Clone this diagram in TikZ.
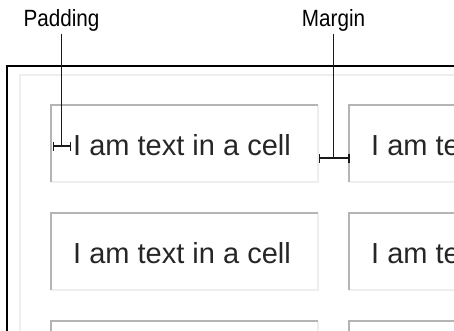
\documentclass[tikz,border=0pt]{standalone}
\usepackage{fontspec}
\setmainfont{Liberation Sans}
\newfontfamily\labelfont[FakeStretch=0.88]{Liberation Sans}
\usetikzlibrary{arrows.meta}
\definecolor{darkedge}{HTML}{B4B4B4}
\definecolor{lightedge}{HTML}{EEEEEE}
\definecolor{inkline}{HTML}{1A1A1A}
\tikzset{
  x=1pt, y=1pt,
  cellbox/.style={minimum width=267pt, minimum height=77pt, inner sep=0pt, outer sep=0pt},
  celltext/.style={anchor=base west, inner sep=0pt, font=\fontsize{29}{34}\selectfont, text=black!85},
  lbl/.style={anchor=base, inner sep=0pt, font=\labelfont\fontsize{23.5}{28}\selectfont},
  darkline/.style={draw=darkedge, line width=2pt},
  lightline/.style={draw=lightedge, line width=2pt},
  frameline/.style={draw=black, line width=1.5pt},
  dimline/.style={draw=inkline, line width=1.2pt},
  dimbar/.style={dimline, {Bar[width=9pt]}-{Bar[width=9pt]}}
}
\begin{document}
\begin{tikzpicture}
\useasboundingbox (0,0) rectangle (454,-331);
\begin{scope}
\clip (0,0) rectangle (454,-331);
% outer frame
\coordinate (frTR) at (460,-66);
\coordinate (frTL) at (7,-66);
\coordinate (frBL) at (7,-340);
\draw[frameline] (frTR) -- (frTL) -- (frBL);
% table border (inset, light top/left)
\coordinate (tbTR) at (460,-75);
\coordinate (tbTL) at (20,-75);
\coordinate (tbBL) at (20,-340);
\draw[lightline] (tbTR) -- (tbTL) -- (tbBL);
% cells
\foreach \r/\yy in {1/-143.5, 2/-251.5, 3/-359.5}{
  \foreach \c/\xx in {1/184.5, 2/482.5}{
    \node[cellbox] (c\r\c) at (\xx,\yy) {};
    \draw[lightline] (c\r\c.north east) -- (c\r\c.south east) -- (c\r\c.south west);
    \draw[darkline] (c\r\c.south west) -- (c\r\c.north west) -- (c\r\c.north east);
  }
}
% texts
\node[celltext] (t11) at (73,-155) {I am text in a cell};
\node[celltext] (t12) at (371,-155) {I am text in a cell};
\node[celltext] (t21) at (73,-263) {I am text in a cell};
\node[celltext] (t22) at (371,-263) {I am text in a cell};
\end{scope}
% labels
\node[lbl] (padlbl) at (61.5,-27) {Padding};
\node[lbl] (marlbl) at (333.5,-27) {Margin};
% padding dimension
\coordinate (padL) at (53,-146);
\coordinate (padR) at (71,-146);
\coordinate (padM) at (61.5,-146);
\draw[dimbar] (padL) -- (padR);
\draw[dimline] (padlbl.south) ++(0,-1.5) -- (padM);
% margin dimension
\coordinate (marL) at (319,-158);
\coordinate (marR) at (349.5,-158);
\coordinate (marM) at (333.5,-158);
\draw[dimbar] (marL) -- (marR);
\draw[dimline] (marlbl.south) ++(0,-1.5) -- (marM);
\end{tikzpicture}
\end{document}
